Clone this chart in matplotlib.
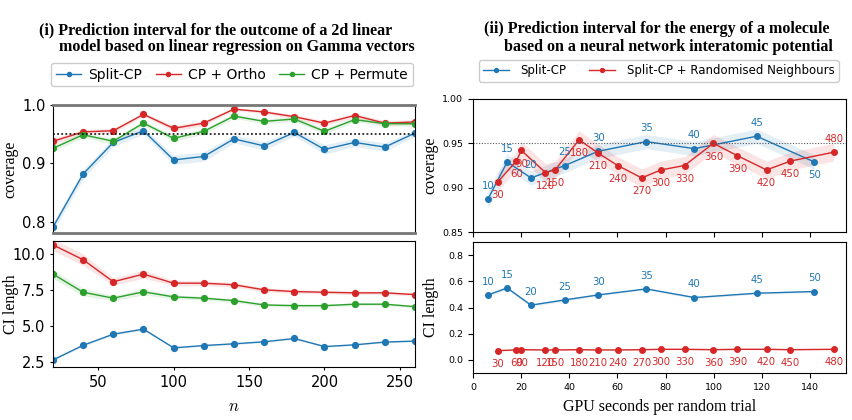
import matplotlib
matplotlib.use("Agg")
import matplotlib.pyplot as plt
import numpy as np

plt.rcParams['font.family'] = ['DejaVu Sans']
plt.rcParams['mathtext.fontset'] = 'cm'

BLUE = '#1f77b4'
RED = '#d62728'
GREEN = '#2ca02c'

# ---------------- Panel (i) data ----------------
n_vals = [20, 40, 60, 80, 100, 120, 140, 160, 180, 200, 220, 240, 260]
cov_split = [0.791, 0.882, 0.936, 0.956, 0.906, 0.912, 0.942, 0.930, 0.953, 0.924, 0.936, 0.928, 0.952]
cov_ortho = [0.938, 0.954, 0.956, 0.984, 0.960, 0.969, 0.993, 0.988, 0.980, 0.969, 0.982, 0.969, 0.971]
cov_perm = [0.926, 0.949, 0.938, 0.969, 0.943, 0.955, 0.981, 0.972, 0.976, 0.955, 0.975, 0.968, 0.968]
cov_split_err = [0.008, 0.008, 0.007, 0.006, 0.008, 0.008, 0.007, 0.007, 0.006, 0.008, 0.007, 0.007, 0.006]
cov_ortho_err = [0.005, 0.004, 0.004, 0.003, 0.005, 0.004, 0.002, 0.003, 0.004, 0.004, 0.004, 0.004, 0.004]
cov_perm_err = [0.005, 0.005, 0.005, 0.004, 0.005, 0.005, 0.004, 0.004, 0.004, 0.005, 0.004, 0.004, 0.004]

len_split = [2.64, 3.66, 4.43, 4.78, 3.48, 3.64, 3.76, 3.90, 4.13, 3.57, 3.69, 3.88, 3.95]
len_ortho = [10.63, 9.60, 8.07, 8.60, 7.97, 7.97, 7.86, 7.51, 7.39, 7.34, 7.30, 7.30, 7.18]
len_perm = [8.60, 7.34, 6.93, 7.37, 7.02, 6.93, 6.76, 6.46, 6.41, 6.41, 6.51, 6.51, 6.34]
len_split_err = [0.08, 0.08, 0.08, 0.08, 0.06, 0.06, 0.06, 0.06, 0.06, 0.05, 0.05, 0.05, 0.05]
len_ortho_err = [0.40, 0.40, 0.25, 0.28, 0.18, 0.17, 0.16, 0.14, 0.13, 0.12, 0.12, 0.11, 0.11]
len_perm_err = [0.30, 0.25, 0.18, 0.22, 0.14, 0.13, 0.12, 0.11, 0.10, 0.10, 0.10, 0.09, 0.09]

# ---------------- Panel (ii) data ----------------
gpu_split = [6.2, 14.2, 24.1, 38.2, 52.0, 72.0, 92.0, 117.9, 141.8]
lab_split = [10, 15, 20, 25, 30, 35, 40, 45, 50]
cov2_split = [0.887, 0.929, 0.911, 0.925, 0.941, 0.952, 0.944, 0.958, 0.929]
cov2_split_err = [0.010, 0.009, 0.008, 0.008, 0.008, 0.008, 0.008, 0.008, 0.008]
len2_split = [0.496, 0.549, 0.418, 0.458, 0.496, 0.542, 0.476, 0.509, 0.522]
len2_split_err = [0.012, 0.012, 0.010, 0.010, 0.008, 0.008, 0.008, 0.008, 0.008]

gpu_rand = [10.3, 18.0, 20.1, 30.1, 34.1, 44.1, 52.0, 60.1, 70.1, 78.1, 87.9, 99.9, 109.9, 122.0, 131.9, 149.9]
lab_rand = [30, 60, 90, 120, 150, 180, 210, 240, 270, 300, 330, 360, 390, 420, 450, 480]
cov2_rand = [0.9065, 0.930, 0.942, 0.917, 0.920, 0.954, 0.939, 0.925, 0.911, 0.920, 0.925, 0.950, 0.936, 0.920, 0.930, 0.940]
cov2_rand_err = [0.010, 0.010, 0.010, 0.010, 0.010, 0.010, 0.010, 0.010, 0.010, 0.010, 0.010, 0.010, 0.010, 0.010, 0.010, 0.010]
len2_rand = [0.071, 0.076, 0.078, 0.076, 0.076, 0.078, 0.076, 0.076, 0.078, 0.081, 0.081, 0.078, 0.081, 0.081, 0.078, 0.081]
len2_rand_err = [0.004, 0.004, 0.004, 0.004, 0.004, 0.004, 0.004, 0.004, 0.004, 0.004, 0.004, 0.004, 0.004, 0.004, 0.004, 0.004]

target = 0.95

fig = plt.figure(figsize=(8.53, 4.2), dpi=100)

ax1 = fig.add_axes([0.0621, 0.4452, 0.4244, 0.3048])
ax2 = fig.add_axes([0.0621, 0.1262, 0.4244, 0.3000])
ax3 = fig.add_axes([0.5545, 0.4476, 0.4373, 0.3167])
ax4 = fig.add_axes([0.5545, 0.1119, 0.4373, 0.3119])

def series(ax, x, y, e, c, label=None, ms=4.2):
    x = np.asarray(x); y = np.asarray(y); e = np.asarray(e)
    ax.fill_between(x, y - e, y + e, color=c, alpha=0.12, lw=0)
    return ax.plot(x, y, '-o', color=c, lw=1.0, ms=ms, label=label)[0]

LEFT_TICK_FS = 10.5
RIGHT_TICK_FS = 6.8
LABEL_FS = 11.5
TITLE_FS = 11.5

# ---- Panel (i) top ----
h1 = series(ax1, n_vals, cov_split, cov_split_err, BLUE, 'Split-CP')
h2 = series(ax1, n_vals, cov_ortho, cov_ortho_err, RED, 'CP + Ortho')
h3 = series(ax1, n_vals, cov_perm, cov_perm_err, GREEN, 'CP + Permute')
ax1.axhline(target, color='black', ls=(0, (1.2, 1.5)), lw=1.1)
ax1.set_xlim(20, 260)
ax1.set_ylim(0.781, 1.0)
ax1.set_yticks([0.8, 0.9, 1.0])
ax1.tick_params(axis='x', labelbottom=False, length=0)
ax1.tick_params(axis='y', labelsize=LEFT_TICK_FS, length=2)
for s in ['top', 'bottom']:
    ax1.spines[s].set_color('#777777')
    ax1.spines[s].set_linewidth(2.0)
ax1.set_ylabel('coverage', family='Liberation Serif', fontsize=LABEL_FS)
ax1.yaxis.set_label_coords(-0.095, 0.5)

# ---- Panel (i) bottom ----
series(ax2, n_vals, len_split, len_split_err, BLUE)
series(ax2, n_vals, len_ortho, len_ortho_err, RED)
series(ax2, n_vals, len_perm, len_perm_err, GREEN)
ax2.set_xlim(20, 260)
ax2.set_ylim(2.15, 10.9)
ax2.set_yticks([2.5, 5.0, 7.5, 10.0])
ax2.set_xticks([50, 100, 150, 200, 250])
ax2.tick_params(labelsize=LEFT_TICK_FS, length=2)
ax2.set_ylabel('CI length', family='Liberation Serif', fontsize=LABEL_FS)
ax2.yaxis.set_label_coords(-0.095, 0.5)
ax2.set_xlabel('$n$', fontsize=12, labelpad=5)

fig.legend(handles=[h1, h2, h3], loc='center', bbox_to_anchor=(0.272, 0.8226), ncol=3,
           fontsize=10, handlelength=1.8, columnspacing=1.0, handletextpad=0.5,
           markerscale=0.7, borderpad=0.35, fancybox=True, framealpha=1, edgecolor='#cccccc')

fig.text(0.0457, 0.9286, '(i) Prediction interval for the outcome of a 2d linear',
         family='Liberation Serif', fontweight='bold', fontsize=TITLE_FS, ha='left', va='center')
fig.text(0.0692, 0.888, 'model based on linear regression on Gamma vectors',
         family='Liberation Serif', fontweight='bold', fontsize=TITLE_FS, ha='left', va='center')

# ---- Panel (ii) top ----
g1 = series(ax3, gpu_split, cov2_split, cov2_split_err, BLUE, 'Split-CP', ms=4.0)
g2 = series(ax3, gpu_rand, cov2_rand, cov2_rand_err, RED, 'Split-CP + Randomised Neighbours', ms=4.0)
ax3.axhline(target, color='#555555', ls=(0, (1, 1.5)), lw=0.8)
ax3.set_xlim(0, 155)
ax3.set_ylim(0.85, 1.0)
ax3.set_yticks([0.85, 0.90, 0.95, 1.00])
ax3.set_xticks([0, 20, 40, 60, 80, 100, 120, 140])
ax3.tick_params(axis='x', labelbottom=False, length=3.5)
ax3.tick_params(axis='y', labelsize=RIGHT_TICK_FS, length=3.5)
ax3.set_ylabel('coverage', family='Liberation Serif', fontsize=LABEL_FS)
ax3.yaxis.set_label_coords(-0.092, 0.5)

ann_fs = 7.3
off = 9.5
for i, (x, y, t) in enumerate(zip(gpu_split, cov2_split, lab_split)):
    dy = -off if i == len(gpu_split) - 1 else off
    ax3.annotate(str(t), (x, y), xytext=(0, dy), textcoords='offset points',
                 ha='center', va='center', color=BLUE, fontsize=ann_fs)
for i, (x, y, t) in enumerate(zip(gpu_rand, cov2_rand, lab_rand)):
    dy = off if i == len(gpu_rand) - 1 else -off
    ax3.annotate(str(t), (x, y), xytext=(0, dy), textcoords='offset points',
                 ha='center', va='center', color=RED, fontsize=ann_fs)

# ---- Panel (ii) bottom ----
series(ax4, gpu_split, len2_split, len2_split_err, BLUE, ms=4.0)
series(ax4, gpu_rand, len2_rand, len2_rand_err, RED, ms=4.0)
ax4.set_xlim(0, 155)
ax4.set_ylim(-0.1, 0.9)
ax4.set_yticks([0.0, 0.2, 0.4, 0.6, 0.8])
ax4.set_xticks([0, 20, 40, 60, 80, 100, 120, 140])
ax4.tick_params(labelsize=RIGHT_TICK_FS, length=3.5)
ax4.set_ylabel('CI length', family='Liberation Serif', fontsize=LABEL_FS)
ax4.yaxis.set_label_coords(-0.092, 0.5)
ax4.set_xlabel('GPU seconds per random trial', family='Liberation Serif', fontsize=LABEL_FS, labelpad=5)
for x, y, t in zip(gpu_split, len2_split, lab_split):
    ax4.annotate(str(t), (x, y), xytext=(0, off), textcoords='offset points',
                 ha='center', va='center', color=BLUE, fontsize=ann_fs)
for x, y, t in zip(gpu_rand, len2_rand, lab_rand):
    ax4.annotate(str(t), (x, y), xytext=(0, -off), textcoords='offset points',
                 ha='center', va='center', color=RED, fontsize=ann_fs)

fig.legend(handles=[g1, g2], loc='center', bbox_to_anchor=(0.772, 0.831), ncol=2,
           fontsize=8.5, handlelength=2.2, columnspacing=1.9, handletextpad=1.0,
           markerscale=0.7, borderpad=0.35, fancybox=True, framealpha=1, edgecolor='#cccccc')

fig.text(0.5674, 0.9310, '(ii) Prediction interval for the energy of a molecule',
         family='Liberation Serif', fontweight='bold', fontsize=TITLE_FS, ha='left', va='center')
fig.text(0.5909, 0.888, 'based on a neural network interatomic potential',
         family='Liberation Serif', fontweight='bold', fontsize=TITLE_FS, ha='left', va='center')

fig.savefig('out.png', dpi=100)
